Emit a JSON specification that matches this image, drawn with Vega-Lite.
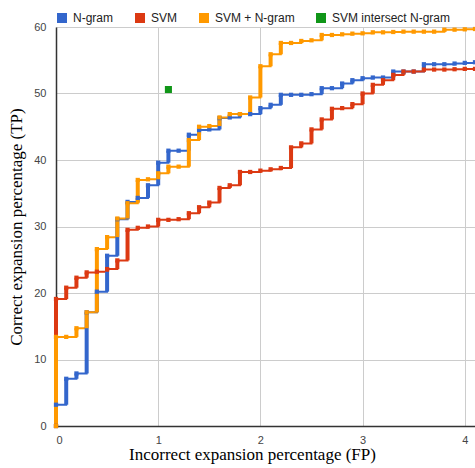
{
  "$schema": "https://vega.github.io/schema/vega-lite/v6.json",
  "width": 419,
  "height": 399,
  "autosize": {"type": "none"},
  "padding": {"left": 56, "top": 27, "right": 0, "bottom": 42},
  "background": "white",
  "config": {
    "view": {"stroke": null},
    "font": "Liberation Sans",
    "axis": {
      "gridColor": "#cccccc",
      "gridWidth": 1,
      "domainColor": "#333333",
      "domainWidth": 1.5,
      "ticks": false,
      "labelFont": "Liberation Sans",
      "labelFontSize": 11,
      "labelColor": "#444444",
      "titleFont": "Liberation Serif",
      "titleFontSize": 17,
      "titleFontWeight": "normal",
      "titleColor": "#000000"
    },
    "legend": {
      "orient": "none",
      "legendX": 0,
      "legendY": -15,
      "direction": "horizontal",
      "title": null,
      "symbolType": "square",
      "symbolSize": 100,
      "symbolStrokeWidth": 0,
      "symbolOpacity": 1,
      "labelFont": "Liberation Sans",
      "labelFontSize": 12,
      "labelColor": "#222222",
      "labelOffset": 5,
      "columnPadding": 20,
      "padding": 0
    }
  },
  "data": {
    "values": [
      {"series": "N-gram", "fp": 0, "tp": 0},
      {"series": "N-gram", "fp": 0, "tp": 3.2},
      {"series": "N-gram", "fp": 0.1, "tp": 7.1},
      {"series": "N-gram", "fp": 0.2, "tp": 7.9},
      {"series": "N-gram", "fp": 0.3, "tp": 17.1},
      {"series": "N-gram", "fp": 0.4, "tp": 20.2},
      {"series": "N-gram", "fp": 0.5, "tp": 25.6},
      {"series": "N-gram", "fp": 0.6, "tp": 31.1},
      {"series": "N-gram", "fp": 0.7, "tp": 33.7},
      {"series": "N-gram", "fp": 0.8, "tp": 34.3},
      {"series": "N-gram", "fp": 0.9, "tp": 36.2},
      {"series": "N-gram", "fp": 1.0, "tp": 39.6},
      {"series": "N-gram", "fp": 1.1, "tp": 41.4},
      {"series": "N-gram", "fp": 1.2, "tp": 41.4},
      {"series": "N-gram", "fp": 1.3, "tp": 43.8},
      {"series": "N-gram", "fp": 1.4, "tp": 44.5},
      {"series": "N-gram", "fp": 1.5, "tp": 44.6},
      {"series": "N-gram", "fp": 1.6, "tp": 46.3},
      {"series": "N-gram", "fp": 1.7, "tp": 46.4},
      {"series": "N-gram", "fp": 1.8, "tp": 46.9},
      {"series": "N-gram", "fp": 1.9, "tp": 46.9},
      {"series": "N-gram", "fp": 2.0, "tp": 47.8},
      {"series": "N-gram", "fp": 2.1, "tp": 48.3},
      {"series": "N-gram", "fp": 2.2, "tp": 49.8},
      {"series": "N-gram", "fp": 2.3, "tp": 49.8},
      {"series": "N-gram", "fp": 2.4, "tp": 49.8},
      {"series": "N-gram", "fp": 2.5, "tp": 49.9},
      {"series": "N-gram", "fp": 2.6, "tp": 50.8},
      {"series": "N-gram", "fp": 2.7, "tp": 50.8},
      {"series": "N-gram", "fp": 2.8, "tp": 51.5},
      {"series": "N-gram", "fp": 2.9, "tp": 52.0},
      {"series": "N-gram", "fp": 3.0, "tp": 52.3},
      {"series": "N-gram", "fp": 3.1, "tp": 52.4},
      {"series": "N-gram", "fp": 3.2, "tp": 52.4},
      {"series": "N-gram", "fp": 3.3, "tp": 53.3},
      {"series": "N-gram", "fp": 3.4, "tp": 53.3},
      {"series": "N-gram", "fp": 3.5, "tp": 53.3},
      {"series": "N-gram", "fp": 3.6, "tp": 54.4},
      {"series": "N-gram", "fp": 3.7, "tp": 54.4},
      {"series": "N-gram", "fp": 3.8, "tp": 54.4},
      {"series": "N-gram", "fp": 3.9, "tp": 54.5},
      {"series": "N-gram", "fp": 4.0, "tp": 54.6},
      {"series": "N-gram", "fp": 4.1, "tp": 54.7},
      {"series": "SVM", "fp": 0, "tp": 0},
      {"series": "SVM", "fp": 0, "tp": 19.1},
      {"series": "SVM", "fp": 0.1, "tp": 20.8},
      {"series": "SVM", "fp": 0.2, "tp": 22.3},
      {"series": "SVM", "fp": 0.3, "tp": 23.1},
      {"series": "SVM", "fp": 0.4, "tp": 23.2},
      {"series": "SVM", "fp": 0.5, "tp": 23.6},
      {"series": "SVM", "fp": 0.6, "tp": 24.9},
      {"series": "SVM", "fp": 0.7, "tp": 29.5},
      {"series": "SVM", "fp": 0.8, "tp": 29.8},
      {"series": "SVM", "fp": 0.9, "tp": 30.0},
      {"series": "SVM", "fp": 1.0, "tp": 31.0},
      {"series": "SVM", "fp": 1.1, "tp": 31.0},
      {"series": "SVM", "fp": 1.2, "tp": 31.1},
      {"series": "SVM", "fp": 1.3, "tp": 32.0},
      {"series": "SVM", "fp": 1.4, "tp": 32.9},
      {"series": "SVM", "fp": 1.5, "tp": 33.6},
      {"series": "SVM", "fp": 1.6, "tp": 35.8},
      {"series": "SVM", "fp": 1.7, "tp": 36.2},
      {"series": "SVM", "fp": 1.8, "tp": 38.2},
      {"series": "SVM", "fp": 1.9, "tp": 38.2},
      {"series": "SVM", "fp": 2.0, "tp": 38.4},
      {"series": "SVM", "fp": 2.1, "tp": 38.6},
      {"series": "SVM", "fp": 2.2, "tp": 38.8},
      {"series": "SVM", "fp": 2.3, "tp": 41.9},
      {"series": "SVM", "fp": 2.4, "tp": 42.5},
      {"series": "SVM", "fp": 2.5, "tp": 44.6},
      {"series": "SVM", "fp": 2.6, "tp": 46.1},
      {"series": "SVM", "fp": 2.7, "tp": 47.7},
      {"series": "SVM", "fp": 2.8, "tp": 47.8},
      {"series": "SVM", "fp": 2.9, "tp": 48.4},
      {"series": "SVM", "fp": 3.0, "tp": 50.0},
      {"series": "SVM", "fp": 3.1, "tp": 51.3},
      {"series": "SVM", "fp": 3.2, "tp": 52.0},
      {"series": "SVM", "fp": 3.3, "tp": 52.8},
      {"series": "SVM", "fp": 3.4, "tp": 53.3},
      {"series": "SVM", "fp": 3.5, "tp": 53.3},
      {"series": "SVM", "fp": 3.6, "tp": 53.6},
      {"series": "SVM", "fp": 3.7, "tp": 53.6},
      {"series": "SVM", "fp": 3.8, "tp": 53.6},
      {"series": "SVM", "fp": 3.9, "tp": 53.65},
      {"series": "SVM", "fp": 4.0, "tp": 53.7},
      {"series": "SVM", "fp": 4.1, "tp": 53.7},
      {"series": "SVM + N-gram", "fp": 0, "tp": 0},
      {"series": "SVM + N-gram", "fp": 0, "tp": 13.4},
      {"series": "SVM + N-gram", "fp": 0.1, "tp": 13.4},
      {"series": "SVM + N-gram", "fp": 0.2, "tp": 14.7},
      {"series": "SVM + N-gram", "fp": 0.3, "tp": 17.1},
      {"series": "SVM + N-gram", "fp": 0.4, "tp": 26.6},
      {"series": "SVM + N-gram", "fp": 0.5, "tp": 28.4},
      {"series": "SVM + N-gram", "fp": 0.6, "tp": 31.2},
      {"series": "SVM + N-gram", "fp": 0.7, "tp": 33.5},
      {"series": "SVM + N-gram", "fp": 0.8, "tp": 37.0},
      {"series": "SVM + N-gram", "fp": 0.9, "tp": 37.1},
      {"series": "SVM + N-gram", "fp": 1.0, "tp": 38.0},
      {"series": "SVM + N-gram", "fp": 1.1, "tp": 39.0},
      {"series": "SVM + N-gram", "fp": 1.2, "tp": 39.0},
      {"series": "SVM + N-gram", "fp": 1.3, "tp": 43.0},
      {"series": "SVM + N-gram", "fp": 1.4, "tp": 45.0},
      {"series": "SVM + N-gram", "fp": 1.5, "tp": 45.1},
      {"series": "SVM + N-gram", "fp": 1.6, "tp": 46.4},
      {"series": "SVM + N-gram", "fp": 1.7, "tp": 46.9},
      {"series": "SVM + N-gram", "fp": 1.8, "tp": 46.9},
      {"series": "SVM + N-gram", "fp": 1.9, "tp": 49.4},
      {"series": "SVM + N-gram", "fp": 2.0, "tp": 54.1},
      {"series": "SVM + N-gram", "fp": 2.1, "tp": 55.9},
      {"series": "SVM + N-gram", "fp": 2.2, "tp": 57.6},
      {"series": "SVM + N-gram", "fp": 2.3, "tp": 57.6},
      {"series": "SVM + N-gram", "fp": 2.4, "tp": 57.9},
      {"series": "SVM + N-gram", "fp": 2.5, "tp": 58.0},
      {"series": "SVM + N-gram", "fp": 2.6, "tp": 58.8},
      {"series": "SVM + N-gram", "fp": 2.7, "tp": 58.8},
      {"series": "SVM + N-gram", "fp": 2.8, "tp": 58.9},
      {"series": "SVM + N-gram", "fp": 2.9, "tp": 59.0},
      {"series": "SVM + N-gram", "fp": 3.0, "tp": 59.05},
      {"series": "SVM + N-gram", "fp": 3.1, "tp": 59.2},
      {"series": "SVM + N-gram", "fp": 3.2, "tp": 59.2},
      {"series": "SVM + N-gram", "fp": 3.3, "tp": 59.25},
      {"series": "SVM + N-gram", "fp": 3.4, "tp": 59.3},
      {"series": "SVM + N-gram", "fp": 3.5, "tp": 59.3},
      {"series": "SVM + N-gram", "fp": 3.6, "tp": 59.3},
      {"series": "SVM + N-gram", "fp": 3.7, "tp": 59.3},
      {"series": "SVM + N-gram", "fp": 3.8, "tp": 59.6},
      {"series": "SVM + N-gram", "fp": 3.9, "tp": 59.6},
      {"series": "SVM + N-gram", "fp": 4.0, "tp": 59.65},
      {"series": "SVM + N-gram", "fp": 4.1, "tp": 59.7},
      {"series": "SVM intersect N-gram", "fp": 1.1, "tp": 50.6}
    ]
  },
  "transform": [
    {
      "window": [{"op": "lag", "field": "tp", "as": "prev"}, {"op": "row_number", "as": "idx"}],
      "groupby": ["series"],
      "sort": [{"field": "fp", "order": "ascending"}, {"field": "tp", "order": "ascending"}]
    }
  ],
  "encoding": {
    "x": {
      "field": "fp",
      "type": "quantitative",
      "scale": {"domain": [0, 4.1], "nice": false, "zero": false},
      "axis": {"values": [0, 1, 2, 3, 4], "format": "d", "title": "Incorrect expansion percentage (FP)", "labelPadding": 8, "titlePadding": 1, "titleX": 196}
    },
    "y": {
      "field": "tp",
      "type": "quantitative",
      "scale": {"domain": [0, 60], "nice": false},
      "axis": {"values": [0, 10, 20, 30, 40, 50, 60], "title": "Correct expansion percentage (TP)", "labelPadding": 10, "titlePadding": 8}
    },
    "color": {
      "field": "series",
      "type": "nominal",
      "scale": {
        "domain": ["N-gram", "SVM", "SVM + N-gram", "SVM intersect N-gram"],
        "range": ["#3366CC", "#DC3912", "#FF9900", "#109618"]
      },
      "legend": {}
    }
  },
  "layer": [
    {
      "transform": [{"filter": "datum.series !== 'SVM intersect N-gram'"}],
      "mark": {"type": "line", "interpolate": "step-after", "strokeWidth": 2},
      "encoding": {"order": {"field": "idx", "type": "quantitative"}}
    },
    {
      "transform": [{"filter": "datum.series !== 'SVM intersect N-gram' && datum.prev != null"}],
      "mark": {"type": "rule", "strokeWidth": 4},
      "encoding": {
        "y": {"field": "prev", "type": "quantitative"},
        "y2": {"field": "tp"}
      }
    },
    {
      "mark": {"type": "point", "shape": "square", "filled": true, "opacity": 1},
      "encoding": {
        "size": {
          "condition": {"test": "datum.series === 'SVM intersect N-gram'", "value": 50},
          "value": 18
        }
      }
    }
  ]
}
